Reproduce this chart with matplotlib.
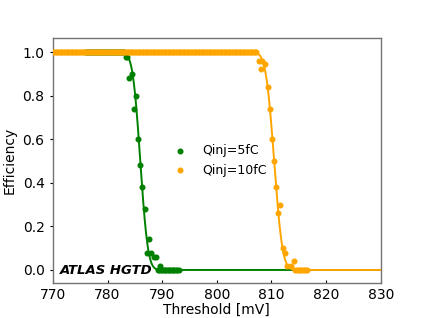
import math
import numpy as np
import matplotlib
matplotlib.use("Agg")
import matplotlib.pyplot as plt

# ---- data ----
green_x = [776.0, 776.25, 776.5, 776.75, 777.0, 777.25, 777.5, 777.75, 778.0, 778.25,
           778.5, 778.75, 779.0, 779.25, 779.5, 779.75, 780.0, 780.25, 780.5, 780.75,
           781.0, 781.25, 781.5, 781.75, 782.0, 782.25, 782.5, 782.75, 783.0,
           783.4, 783.6, 784.4, 784.0, 785.2, 784.9, 785.6, 786.0, 786.4, 786.8,
           787.6, 787.2, 788.0, 788.5, 788.9, 789.6, 789.2,
           789.5, 789.75, 790.0, 790.25, 790.5, 790.75, 791.0, 791.25, 791.5,
           791.75, 792.0, 792.25, 792.5, 792.75, 793.0]
green_y = [1.0, 1.0, 1.0, 1.0, 1.0, 1.0, 1.0, 1.0, 1.0, 1.0,
           1.0, 1.0, 1.0, 1.0, 1.0, 1.0, 1.0, 1.0, 1.0, 1.0,
           1.0, 1.0, 1.0, 1.0, 1.0, 1.0, 1.0, 1.0, 1.0,
           0.98, 0.977, 0.90, 0.883, 0.80, 0.74, 0.60, 0.48, 0.38, 0.28,
           0.14, 0.08, 0.08, 0.06, 0.06, 0.02, 0.0,
           0.0, 0.0, 0.0, 0.0, 0.0, 0.0, 0.0, 0.0, 0.0,
           0.0, 0.0, 0.0, 0.0, 0.0, 0.0]

orange_x = [770.0, 770.25, 770.5, 770.75, 771.0, 771.25, 771.5, 771.75, 772.0, 772.25,
            772.5, 772.75, 773.0, 773.25, 773.5, 773.75, 774.0, 774.25, 774.5, 774.75,
            775.0, 775.25, 775.5, 775.75, 776.0, 776.25, 776.5, 776.75, 777.0, 777.25,
            777.5, 777.75, 778.0, 778.25, 778.5, 778.75, 779.0, 779.25, 779.5, 779.75,
            780.0, 780.25, 780.5, 780.75, 781.0, 781.25, 781.5, 781.75, 782.0, 782.25,
            782.5, 782.75, 783.0, 783.25, 783.5, 783.75, 784.0, 784.25, 784.5, 784.75,
            785.0, 785.25, 785.5, 785.75, 786.0, 786.25, 786.5, 786.75, 787.0, 787.25,
            787.5, 787.75, 788.0, 788.25, 788.5, 788.75, 789.0, 789.25, 789.5, 789.75,
            790.0, 790.25, 790.5, 790.75, 791.0, 791.25, 791.5, 791.75, 792.0, 792.25,
            792.5, 792.75, 793.0, 793.25, 793.5, 793.75, 794.0, 794.25, 794.5, 794.75,
            795.0, 795.25, 795.5, 795.75, 796.0, 796.25, 796.5, 796.75, 797.0, 797.25,
            797.5, 797.75, 798.0, 798.25, 798.5, 798.75, 799.0, 799.25, 799.5, 799.75,
            800.0, 800.25, 800.5, 800.75, 801.0, 801.25, 801.5, 801.75, 802.0, 802.25,
            802.5, 802.75, 803.0, 803.25, 803.5, 803.75, 804.0, 804.25, 804.5, 804.75,
            805.0, 805.25, 805.5, 805.75, 806.0, 806.25, 806.5, 806.75, 807.0, 807.25,
            807.7, 808.2, 808.9, 808.1, 809.3, 809.7, 810.1, 810.5, 810.9, 811.2,
            811.6, 812.1, 812.5, 812.9, 813.6, 814.1,
            814.4, 814.7, 815.0, 815.3, 815.6, 815.9, 816.2, 816.5]
orange_y = [1.0, 1.0, 1.0, 1.0, 1.0, 1.0, 1.0, 1.0, 1.0, 1.0,
            1.0, 1.0, 1.0, 1.0, 1.0, 1.0, 1.0, 1.0, 1.0, 1.0,
            1.0, 1.0, 1.0, 1.0, 1.0, 1.0, 1.0, 1.0, 1.0, 1.0,
            1.0, 1.0, 1.0, 1.0, 1.0, 1.0, 1.0, 1.0, 1.0, 1.0,
            1.0, 1.0, 1.0, 1.0, 1.0, 1.0, 1.0, 1.0, 1.0, 1.0,
            1.0, 1.0, 1.0, 1.0, 1.0, 1.0, 1.0, 1.0, 1.0, 1.0,
            1.0, 1.0, 1.0, 1.0, 1.0, 1.0, 1.0, 1.0, 1.0, 1.0,
            1.0, 1.0, 1.0, 1.0, 1.0, 1.0, 1.0, 1.0, 1.0, 1.0,
            1.0, 1.0, 1.0, 1.0, 1.0, 1.0, 1.0, 1.0, 1.0, 1.0,
            1.0, 1.0, 1.0, 1.0, 1.0, 1.0, 1.0, 1.0, 1.0, 1.0,
            1.0, 1.0, 1.0, 1.0, 1.0, 1.0, 1.0, 1.0, 1.0, 1.0,
            1.0, 1.0, 1.0, 1.0, 1.0, 1.0, 1.0, 1.0, 1.0, 1.0,
            1.0, 1.0, 1.0, 1.0, 1.0, 1.0, 1.0, 1.0, 1.0, 1.0,
            1.0, 1.0, 1.0, 1.0, 1.0, 1.0, 1.0, 1.0, 1.0, 1.0,
            1.0, 1.0, 1.0, 1.0, 1.0, 1.0, 1.0, 1.0, 1.0, 1.0,
            0.962, 0.96, 0.944, 0.924, 0.84, 0.74, 0.60, 0.50, 0.38, 0.26,
            0.30, 0.10, 0.08, 0.02, 0.02, 0.04,
            0.0, 0.0, 0.0, 0.0, 0.0, 0.0, 0.0, 0.0]

# fitted S-curve parameters (mean, sigma)
green_fit = (786.0, 1.1)
orange_fit = (810.5, 1.2)

labels = ["Qinj=5fC", "Qinj=10fC"]
x_ticks = [770, 780, 790, 800, 810, 820, 830]
y_ticks = [0.0, 0.2, 0.4, 0.6, 0.8, 1.0]


def scurve(x, mu, sigma):
    return np.array([0.5 * math.erfc((v - mu) / (math.sqrt(2) * sigma)) for v in x])


fig, ax = plt.subplots(figsize=(4.23, 3.18), dpi=100)

xx = np.linspace(770, 830, 800)
ax.scatter(green_x, green_y, s=11, color="green", label=labels[0], zorder=2)
ax.plot(xx, scurve(xx, *green_fit), color="green", lw=1.4, zorder=3)
ax.scatter(orange_x, orange_y, s=11, color="orange", label=labels[1], zorder=4)
ax.plot(xx, scurve(xx, *orange_fit), color="orange", lw=1.4, zorder=5)

ax.set_xlim(770, 830)
ax.set_ylim(-0.06, 1.065)
ax.set_xticks(x_ticks)
ax.set_yticks(y_ticks)
ax.set_yticklabels([f"{v:.1f}" for v in y_ticks])
ax.tick_params(axis="x", direction="in", length=2.5, labelsize=10)
ax.tick_params(axis="y", direction="out", length=2.5, labelsize=10)
for sp in ax.spines.values():
    sp.set_color("0.45")
    sp.set_linewidth(1.0)

ax.set_xlabel("Threshold [mV]", fontsize=10, labelpad=1)
ax.set_ylabel("Efficiency", fontsize=10)

ax.legend(loc="center", frameon=False, fontsize=9)
ax.text(0.02, 0.053, "ATLAS HGTD", transform=ax.transAxes, fontsize=9.5,
        fontweight="bold", fontstyle="italic", va="center", ha="left")

fig.savefig("out.png", dpi=100)
